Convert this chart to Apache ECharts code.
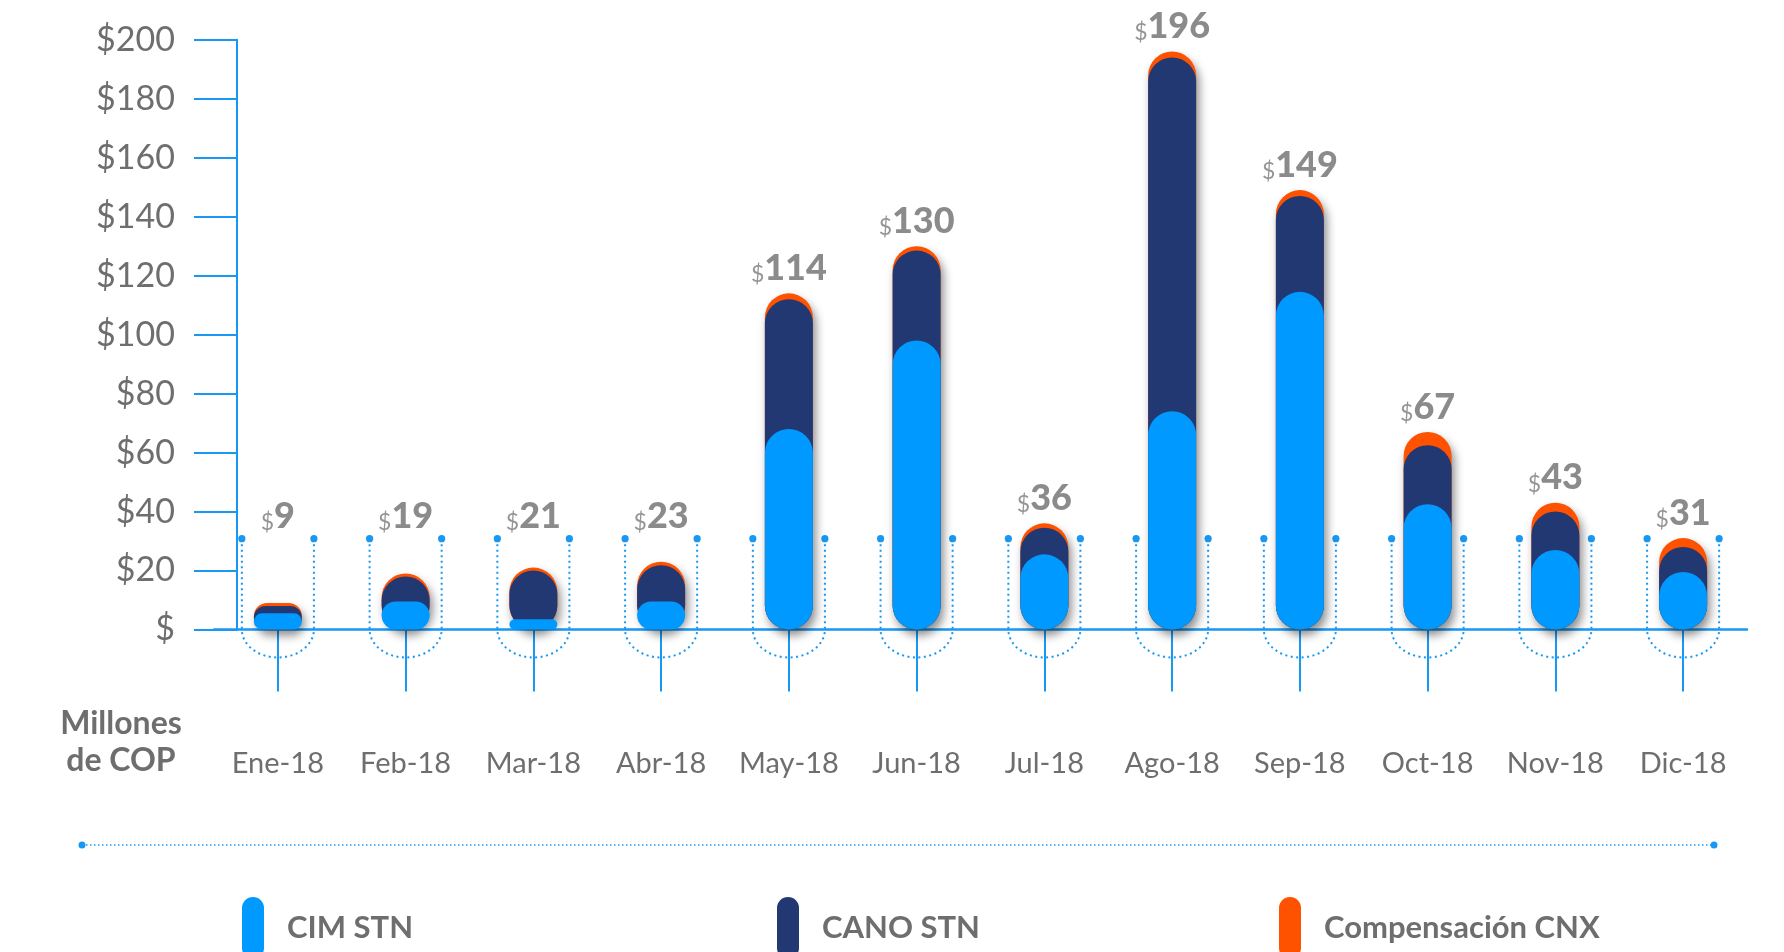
<!DOCTYPE html>
<html>
<head>
<meta charset="utf-8">
<script src="https://cdn.jsdelivr.net/npm/echarts@6/dist/echarts.min.js"></script>
<style>
  html, body { margin: 0; padding: 0; background: #ffffff; }
  #chart { width: 1784px; height: 952px; }
</style>
</head>
<body>
<div id="chart"></div>
<script>
// ---- data ----
const months = ['Ene-18', 'Feb-18', 'Mar-18', 'Abr-18', 'May-18', 'Jun-18', 'Jul-18', 'Ago-18', 'Sep-18', 'Oct-18', 'Nov-18', 'Dic-18'];
const cimSTN  = [5.5, 9.5, 3.5, 9.5, 68, 98, 25.5, 74, 114.5, 42.5, 27, 19.5];
const canoSTN = [2.5, 8.5, 16.5, 12.3, 44, 30.5, 9, 120, 32.5, 20, 13, 8.5];
const compCNX = [1.0, 1.0, 1.0, 1.2, 2, 1.5, 1.5, 2, 2, 4.5, 3, 3];
const yTickLabels = ['$', '$20', '$40', '$60', '$80', '$100', '$120', '$140', '$160', '$180', '$200'];
const seriesNames = ['CIM STN', 'CANO STN', 'Compensación CNX'];

// derived (overlapping capsules: each layer drawn from 0 to its cumulative top)
const layerCim = cimSTN.slice();
const layerCano = cimSTN.map((v, i) => v + canoSTN[i]);
const layerTotal = cimSTN.map((v, i) => v + canoSTN[i] + compCNX[i]);
const totalLabels = layerTotal.map(v => Math.round(v));

const C_LIGHT = '#0099ff';
const C_NAVY = '#213873';
const C_ORANGE = '#ff5200';
const C_LINE = '#1898f3';
const C_TEXT = '#6e6e6e';
const FONT = 'Lato, "Open Sans", sans-serif';

const chart = echarts.init(document.getElementById('chart'));

const capsuleIcon = 'path://M0,11 A11,11 0 0 1 22,11 L22,51 A11,11 0 0 1 0,51 Z';
function legendFor(name, left) {
  return {
    data: [name],
    left: left,
    top: 897,
    padding: 0,
    orient: 'horizontal',
    icon: capsuleIcon,
    itemWidth: 22,
    itemHeight: 62,
    selectedMode: false,
    itemStyle: { shadowBlur: 0, shadowColor: 'transparent', shadowOffsetX: 0, shadowOffsetY: 0 },
    textStyle: { fontFamily: FONT, fontSize: 31, fontWeight: 'bold', color: C_TEXT, padding: [0, 0, 0, 18] }
  };
}

const option = {
  backgroundColor: '#ffffff',
  animation: false,
  grid: { left: 214, right: 37, top: 39.7, bottom: 322.5, containLabel: false },
  legend: [
    legendFor(seriesNames[0], 242),
    legendFor(seriesNames[1], 777),
    legendFor(seriesNames[2], 1279)
  ],
  xAxis: {
    type: 'category',
    data: months,
    boundaryGap: true,
    axisLine: { show: true, lineStyle: { color: C_LINE, width: 2.5 } },
    axisTick: { show: true, alignWithLabel: true, interval: 0, length: 62, lineStyle: { color: C_LINE, width: 2 } },
    axisLabel: { interval: 0, margin: 120, fontFamily: FONT, fontSize: 29, color: C_TEXT }
  },
  yAxis: {
    type: 'value',
    min: 0,
    max: 200,
    interval: 20,
    offset: -23,
    axisLine: { show: true, lineStyle: { color: C_LINE, width: 2 } },
    axisTick: { show: true, inside: false, length: 43, lineStyle: { color: C_LINE, width: 2 } },
    splitLine: { show: false },
    axisLabel: {
      margin: 62,
      fontFamily: FONT,
      fontSize: 34,
      color: C_TEXT,
      formatter: function (v) { return yTickLabels[Math.round(v / 20)]; }
    }
  },
  graphic: [
    {
      type: 'text',
      x: 121, y: 742,
      style: {
        text: 'Millones\nde COP',
        textAlign: 'center',
        textVerticalAlign: 'middle',
        fontFamily: FONT,
        fontSize: 32,
        fontWeight: 'bold',
        lineHeight: 37,
        fill: C_TEXT
      }
    },
    {
      type: 'line',
      shape: { x1: 82, y1: 845, x2: 1714, y2: 845 },
      style: { stroke: C_LINE, lineWidth: 1.5, lineDash: [1.5, 2.5] }
    },
    { type: 'circle', shape: { cx: 82, cy: 845, r: 3.5 }, style: { fill: C_LINE } },
    { type: 'circle', shape: { cx: 1714, cy: 845, r: 3.5 }, style: { fill: C_LINE } }
  ],
  series: [
    {
      type: 'custom',
      name: 'decor',
      silent: true,
      clip: false,
      z: 1,
      data: months.map((m, i) => [i, 0]),
      renderItem: function (params, api) {
        const i = api.value(0);
        const base = api.coord([i, 0]);
        const top = api.coord([i, 30.8]);
        const band = api.size([1, 0])[0];
        const hw = band * 0.282;
        const ry = 28;
        const cx = base[0];
        const by = base[1];
        const ty = top[1];
        const d = 'M' + (cx - hw) + ' ' + ty + ' L' + (cx - hw) + ' ' + by +
          ' A' + hw + ' ' + ry + ' 0 0 0 ' + (cx + hw) + ' ' + by +
          ' L' + (cx + hw) + ' ' + ty;
        return {
          type: 'group',
          children: [
            { type: 'path', shape: { pathData: d }, style: { fill: null, stroke: C_LINE, lineWidth: 2, lineDash: [2, 3.5] } },
            { type: 'circle', shape: { cx: cx - hw, cy: ty, r: 3.6 }, style: { fill: C_LINE } },
            { type: 'circle', shape: { cx: cx + hw, cy: ty, r: 3.6 }, style: { fill: C_LINE } }
          ]
        };
      }
    },
    {
      type: 'bar',
      name: seriesNames[2],
      data: layerTotal,
      barWidth: 48,
      barGap: '-100%',
      z: 2,
      itemStyle: {
        color: C_ORANGE,
        borderRadius: 24,
        shadowColor: 'rgba(0,0,0,0.45)',
        shadowBlur: 10,
        shadowOffsetX: 3,
        shadowOffsetY: 6
      }
    },
    {
      type: 'bar',
      name: seriesNames[1],
      data: layerCano,
      barWidth: 48,
      barGap: '-100%',
      z: 3,
      itemStyle: { color: C_NAVY, borderRadius: 24 }
    },
    {
      type: 'bar',
      name: seriesNames[0],
      data: layerCim,
      barWidth: 48,
      barGap: '-100%',
      z: 4,
      itemStyle: { color: C_LIGHT, borderRadius: 24 }
    },
    {
      type: 'scatter',
      name: 'totales',
      silent: true,
      symbolSize: 0,
      z: 5,
      data: layerTotal.map(v => Math.max(v, 30)),
      label: {
        show: true,
        position: 'top',
        distance: 7,
        formatter: function (p) { return '{s|$}{n|' + totalLabels[p.dataIndex] + '}'; },
        rich: {
          s: { fontFamily: FONT, fontSize: 23, color: '#7a7a7a', verticalAlign: 'bottom' },
          n: { fontFamily: FONT, fontSize: 36, fontWeight: 900, color: C_TEXT, verticalAlign: 'bottom' }
        }
      }
    }
  ]
};

chart.setOption(option);
</script>
</body>
</html>
